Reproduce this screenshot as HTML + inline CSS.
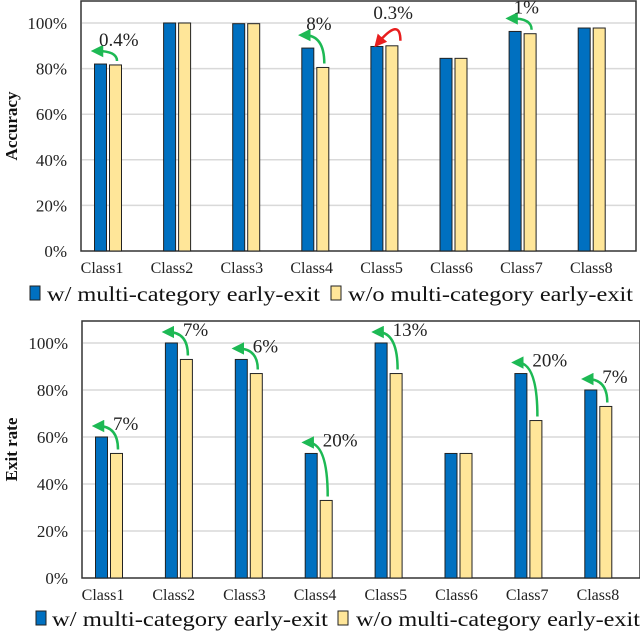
<!DOCTYPE html>
<html><head><meta charset="utf-8"><style>
body{margin:0;background:#fff;width:640px;height:632px;overflow:hidden}
svg text{font-family:"Liberation Serif",serif}
</style></head><body>
<svg id="svg" width="640" height="632"></svg>
<script>
const categories=["Class1","Class2","Class3","Class4","Class5","Class6","Class7","Class8"];
const accWith=[82,100,99.7,89,89.7,84.5,96.3,97.8];
const accWithout=[81.6,100,99.7,80.5,90,84.5,95.3,97.8];
const accArrows=[0,3,4,6];
const accArrowLabels=["0.4%","8%","0.3%","1%"];
const accArrowColors=["#1db954","#1db954","#e81e1e","#1db954"];
const exitWith=[60,100,93,53,100,53,87,80];
const exitWithout=[53,93,87,33,87,53,67,73];
const exitArrows=[0,1,2,3,4,6,7];
const exitArrowLabels=["7%","7%","6%","20%","13%","20%","7%"];
const yTicks=[0,20,40,60,80,100];
const NS="http://www.w3.org/2000/svg";
const svg=document.getElementById('svg');
function mk(tag,attrs,parent,text){const e=document.createElementNS(NS,tag);for(const k in attrs)e.setAttribute(k,attrs[k]);if(text!==undefined)e.textContent=text;(parent||svg).appendChild(e);return e;}
const defs=mk('defs',{});
["g","r"].forEach((id,i)=>{const m=mk('marker',{id:'ah'+id,markerWidth:5,markerHeight:5,refX:2.5,refY:2.5,orient:'auto',markerUnits:'strokeWidth'},defs);mk('path',{d:'M0,0 L5,2.5 L0,5 z',fill:i?'#e81e1e':'#1db954'},m);});
function chart(o){
  const {top,zeroY,hundY,left,right,x0,step,bw,W,Wo,arrows,labels,colors,title,legendY,name,lblDx,lblDy,headUp,sw1,tx1,w1,sw2,tx2,w2}=o;
  const g=mk('g',{});
  
  
  const y=v=>zeroY-(zeroY-hundY)*v/100;
  const cx=i=>x0+step*i;
  yTicks.forEach(t=>{
    if(t>0){const l=mk('line',{x1:left+1,x2:right-1,y1:y(t),y2:y(t),stroke:'#d9d9d9','stroke-width':1.5},g);}
    const tx=mk('text',{x:left-14,y:y(t)+6,'text-anchor':'end','font-size':17,fill:'#222'},g,t+'%');
    
  });
  const fr=mk('path',{d:`M${left},${top} L${right},${top} L${right},${zeroY} L${left},${zeroY} Z`,fill:'none',stroke:'#333','stroke-width':1.5},g);
  
  categories.forEach((c,i)=>{
    const b=mk('rect',{x:cx(i)-bw-1.5,y:y(W[i]),width:bw,height:zeroY-y(W[i]),fill:'#0070c0',stroke:'#222','stroke-width':1},g);
    
    const b2=mk('rect',{x:cx(i)+1.5,y:y(Wo[i]),width:bw,height:zeroY-y(Wo[i]),fill:'#ffe699',stroke:'#222','stroke-width':1},g);
    
    const t=mk('text',{x:cx(i)-6+i*0.8,y:zeroY+22,'text-anchor':'middle','font-size':16,fill:'#222'},g,c);
    
  });
  arrows.forEach((i,k)=>{
    const col=colors?colors[k]:'#1db954';
    const red=col!=='#1db954';
    let sx,sy,ex,ey;
    if(!red){sx=cx(i)+9;sy=y(Wo[i])-4;ex=cx(i)-11;ey=y(W[i])-headUp;}
    else{sx=cx(i)+16;sy=y(Wo[i])-5;ex=cx(i)-6;ey=y(W[i])-4;}
    const cy=red?Math.min(sy,ey)-24:ey;
    const p=mk('path',{d:`M${sx},${sy} Q${sx},${cy} ${ex},${ey}`,fill:'none',stroke:col,'stroke-width':2.5,'marker-end':red?'url(#ahr)':'url(#ahg)'},g);
    
    const lx=red?cx(i)-11:cx(i)+lblDx,ly=red?cy+2:ey+lblDy;
    const t=mk('text',{x:lx,y:ly,'font-size':19,fill:'#222'},g,labels[k]);
    
  });
  const at=mk('text',{transform:`translate(17,${(top+zeroY)/2}) rotate(-90)`,'text-anchor':'middle','font-size':17,'font-weight':'bold',fill:'#111'},g,title);
  
  const lg=mk('g',{},g);
  const r1=mk('rect',{x:sw1,y:legendY-15,width:10,height:14,fill:'#0070c0',stroke:'#222'},lg);
  
  const t1=mk('text',{x:tx1,y:legendY,'font-size':21,'font-family':'Liberation Sans',fill:'#111',textLength:w1,lengthAdjust:'spacingAndGlyphs'},lg,'w/ multi-category early-exit');
  
  const r2=mk('rect',{x:sw2,y:legendY-15,width:10,height:14,fill:'#ffe699',stroke:'#222'},lg);
  
  const t2=mk('text',{x:tx2,y:legendY,'font-size':21,'font-family':'Liberation Sans',fill:'#111',textLength:w2,lengthAdjust:'spacingAndGlyphs'},lg,'w/o multi-category early-exit');
  
}
chart({top:1,zeroY:251,hundY:23,left:81,right:636,x0:108,step:69.1,bw:12,W:accWith,Wo:accWithout,arrows:accArrows,labels:accArrowLabels,colors:accArrowColors,title:'Accuracy',legendY:301,name:'accuracy-chart',lblDx:-9,lblDy:-5,headUp:13,sw1:30,tx1:47,w1:273,sw2:331,tx2:348,w2:285});
chart({top:321,zeroY:578,hundY:343,left:82,right:640,x0:109,step:69.9,bw:12,W:exitWith,Wo:exitWithout,arrows:exitArrows,labels:exitArrowLabels,colors:null,title:'Exit rate',legendY:626,name:'exit-rate-chart',lblDx:4,lblDy:4,headUp:11,sw1:36,tx1:52,w1:276,sw2:338,tx2:356,w2:284});
</script>
</body></html>
